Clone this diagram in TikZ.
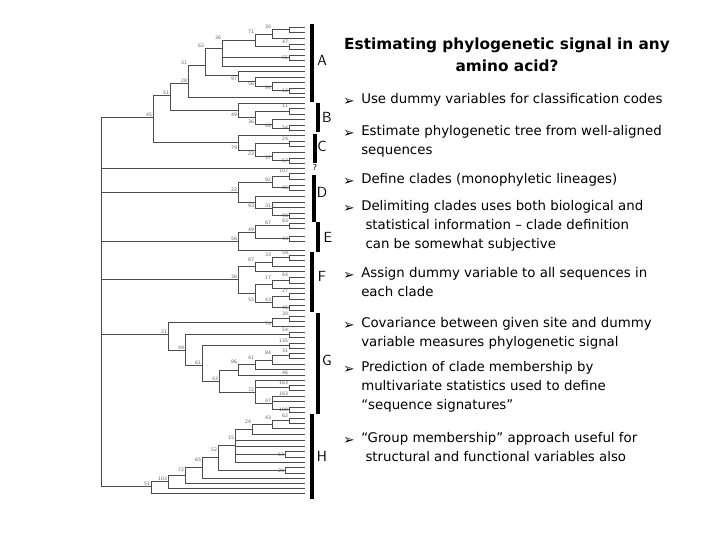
\documentclass[tikz,border=0pt]{standalone}
\usepackage{fontspec}
\setmainfont{DejaVu Sans}
\begin{document}
\begin{tikzpicture}[x=0.75pt,y=-0.75pt,
  tr/.style={draw=black!70,line width=0.6pt},
  bar/.style={line width=2.6pt,black},
  lab/.style={font=\fontsize{11}{11}\selectfont\sffamily,inner sep=0},
  bs/.style={font=\fontsize{3.5}{4}\selectfont,text=black!60,inner sep=0.5pt,anchor=south east},
  bul/.style={font=\fontsize{10}{14.25}\selectfont,inner sep=0,anchor=west},
  txt/.style={font=\fontsize{10}{14.25}\selectfont,inner sep=0,anchor=north west,align=left}]
\useasboundingbox (0,0) rectangle (720,540);
\fill[white] (0,0) rectangle (720,540);
\newcommand\TrV[3]{\draw[tr] (#1,#2)--(#1,#3);}
\newcommand\TrH[3]{\draw[tr] (#1,#3)--(#2,#3);}
\newcommand\TrL[2]{\foreach \yy in {#2}{\draw[tr] (#1,\yy)--(305,\yy);}}
\newcommand\Bs[3]{\node[bs] at (#1,#2) {#3};}
% ---- clade A
\TrV{289}{27}{32}\TrL{289}{27,32}
\TrV{272}{29.5}{38}\TrH{272}{289}{29.5}\TrL{272}{38}\Bs{272}{29.5}{30}
\TrV{289}{44}{49}\TrL{289}{44,49}\Bs{289}{44}{47}
\TrV{255}{34}{46.5}\TrH{255}{272}{34}\TrH{255}{289}{46.5}\Bs{255}{34}{71}
\TrV{289}{55}{60}\TrL{289}{55,60}\Bs{289}{60}{55}
\TrV{222}{40}{66}\TrH{222}{255}{40}\TrH{222}{289}{57.5}\TrL{222}{66}\Bs{222}{40}{36}
\TrV{289}{88}{93}\TrL{289}{88,93}\Bs{289}{93}{12}
\TrV{272}{82}{90.5}\TrL{272}{82}\TrH{272}{289}{90.5}\Bs{272}{90.5}{94}
\TrV{255}{77}{86}\TrL{255}{77}\TrH{255}{272}{86}\Bs{255}{86}{56}
\TrV{238}{71}{81}\TrL{238}{71}\TrH{238}{255}{81}\Bs{238}{81}{97}
\TrV{205}{48}{75}\TrH{205}{222}{48}\TrH{205}{238}{75}\Bs{205}{48}{63}
\TrV{188}{65}{97}\TrH{188}{205}{65}\TrL{188}{97}\Bs{188}{65}{31}
% ---- clade B
\TrV{289}{108.5}{114}\TrL{289}{108.5,114}\Bs{289}{108.5}{11}
\TrV{289}{125}{130.5}\TrL{289}{125,130.5}\Bs{289}{130.5}{54}
\TrV{272}{119.5}{128}\TrL{272}{119.5}\TrH{272}{289}{128}\Bs{272}{128}{46}
\TrV{255}{111}{124}\TrH{255}{289}{111}\TrH{255}{272}{124}\Bs{255}{124}{36}
\TrV{238}{103}{117.5}\TrL{238}{103}\TrH{238}{255}{117.5}\Bs{238}{117.5}{49}
\TrV{170}{83}{110}\TrH{170}{188}{83}\TrH{170}{238}{110}\Bs{188}{83}{28}\Bs{170}{95}{51}
% ---- clade C
\TrV{289}{141}{146}\TrL{289}{141,146}\Bs{289}{141}{24}
\TrV{289}{158}{163}\TrL{289}{158,163}\Bs{289}{163}{57}
\TrV{272}{152}{160.5}\TrL{272}{152}\TrH{272}{289}{160.5}\Bs{272}{160.5}{37}
\TrV{255}{143.5}{156}\TrH{255}{289}{143.5}\TrH{255}{272}{156}\Bs{255}{156}{23}
\TrV{238}{135}{150}\TrL{238}{135}\TrH{238}{255}{150}\Bs{238}{150}{79}
\TrV{153}{95}{142.5}\TrH{153}{170}{95}\TrH{153}{238}{142.5}\Bs{153}{117}{45}
% ---- ? leaf
\TrL{101}{168}
% ---- clade D
\TrV{289}{173}{179}\TrL{289}{173,179}\Bs{289}{173}{107}
\TrV{289}{185}{190}\TrL{289}{185,190}\Bs{289}{190}{86}
\TrV{272}{176}{187.5}\TrH{272}{289}{176}\TrH{272}{289}{187.5}\Bs{272}{182}{92}
\TrV{289}{213}{218}\TrL{289}{213,218}\Bs{289}{218}{98}
\TrV{272}{202}{215.5}\TrL{272}{202,207}\TrH{272}{289}{215.5}\Bs{272}{208}{31}
\TrV{255}{196}{208}\TrL{255}{196}\TrH{255}{272}{208}\Bs{255}{208}{93}
\TrV{238}{182}{202}\TrH{238}{272}{182}\TrH{238}{255}{202}\Bs{238}{192}{22}
\TrH{101}{238}{192}
% ---- clade E
\TrV{289}{223}{228}\TrL{289}{223,228}\Bs{289}{223}{83}
\TrV{289}{236}{241}\TrL{289}{236,241}\Bs{289}{241}{43}
\TrV{255}{225.5}{238.5}\TrH{255}{289}{225.5}\TrH{255}{289}{238.5}\Bs{272}{225.5}{67}\Bs{255}{232}{49}
\TrV{238}{232}{250}\TrH{238}{255}{232}\TrL{238}{250}\Bs{238}{241}{56}
\TrH{101}{238}{241}
% ---- clade F
\TrV{289}{255}{260}\TrL{289}{255,260}\Bs{289}{255}{59}
\TrV{272}{257.5}{266}\TrH{272}{289}{257.5}\TrL{272}{266}\Bs{272}{257.5}{33}
\TrV{255}{262}{271}\TrH{255}{272}{262}\TrL{255}{271}\Bs{255}{262}{87}
\TrV{289}{277}{283}\TrL{289}{277,283}\Bs{289}{277}{64}
\TrV{289}{293}{299}\TrL{289}{293,299}\Bs{289}{293}{27}
\TrV{272}{280}{288}\TrH{272}{289}{280}\TrL{272}{288}\Bs{272}{280}{17}
\TrV{289}{305}{310}\TrL{289}{305,310}\Bs{289}{310}{45}
\TrV{272}{296}{307.5}\TrH{272}{289}{296}\TrH{272}{289}{307.5}\Bs{272}{302}{43}
\TrV{255}{284}{302}\TrH{255}{272}{284}\TrH{255}{272}{302}\Bs{255}{302}{55}
\TrV{238}{266}{293}\TrH{238}{255}{266}\TrH{238}{255}{293}\Bs{238}{279}{38}
\TrH{101}{238}{279}
% ---- clade G
\TrV{289}{316}{321}\TrL{289}{316,321}\Bs{289}{316}{30}
\TrV{272}{318.5}{326}\TrH{272}{289}{318.5}\TrL{272}{326}\Bs{272}{326}{74}
\TrV{289}{332}{337}\TrL{289}{332,337}\Bs{289}{332}{54}
\TrV{289}{343}{348}\TrL{289}{343,348}\Bs{289}{343}{135}
\TrV{289}{353}{358}\TrL{289}{353,358}\Bs{289}{353}{31}
\TrV{272}{355.5}{364}\TrH{272}{289}{355.5}\TrL{272}{364}\Bs{272}{355.5}{84}
\TrV{255}{360}{369}\TrH{255}{272}{360}\TrL{255}{369}\Bs{255}{360}{41}
\TrV{238}{364.5}{375}\TrH{238}{255}{364.5}\TrL{238}{375}\Bs{238}{364.5}{86}\Bs{289}{375}{46}
\TrV{289}{385}{390}\TrL{289}{385,390}\Bs{289}{385}{163}
\TrV{289}{407}{412}\TrL{289}{407,412}\Bs{289}{412}{100}
\TrV{272}{396}{409.5}\TrL{272}{396,401}\TrH{272}{289}{409.5}\Bs{272}{403}{47}\Bs{289}{396}{163}
\TrV{255}{380}{403}\TrL{255}{380}\TrH{255}{289}{387.5}\TrH{255}{272}{403}\Bs{255}{392}{72}
\TrV{219}{370}{392}\TrH{219}{238}{370}\TrH{219}{255}{392}\Bs{219}{381}{43}
\TrV{202}{345.5}{381}\TrH{202}{289}{345.5}\TrH{202}{219}{381}\Bs{202}{365}{61}
\TrV{185}{334.5}{365}\TrH{185}{289}{334.5}\TrH{185}{202}{365}\Bs{185}{350}{49}
\TrV{168}{322}{350}\TrH{168}{272}{322}\TrH{168}{185}{350}\Bs{168}{334}{21}
\TrH{101}{168}{334}
% ---- clade H
\TrV{289}{418}{423}\TrL{289}{418,423}\Bs{289}{418}{62}
\TrV{272}{420.5}{428}\TrH{272}{289}{420.5}\TrL{272}{428}\Bs{272}{420.5}{43}
\TrV{252}{424}{434}\TrH{252}{272}{424}\TrL{252}{434}\Bs{252}{424}{24}
\TrV{285}{451}{457}\TrL{285}{451,457}\Bs{285}{457}{64}
\TrV{235}{429}{462}\TrH{235}{252}{429}\TrL{235}{440,446,462}\TrH{235}{285}{454}\Bs{235}{440}{15}
\TrV{285}{467}{473}\TrL{285}{467,473}\Bs{285}{473}{28}
\TrV{218}{445}{470}\TrH{218}{235}{445}\TrH{218}{285}{470}\Bs{218}{452}{52}
\TrV{202}{457}{478}\TrH{202}{218}{457}\TrL{202}{478}\Bs{202}{462}{65}
\TrV{185}{467}{483}\TrH{185}{202}{467}\TrL{185}{483}\Bs{185}{472}{72}
\TrV{168}{475}{488}\TrH{168}{185}{475}\TrL{168}{488}\Bs{168}{481}{103}
\TrV{151}{481}{493}\TrH{151}{168}{481}\TrL{151}{493}\Bs{151}{486}{51}
\TrH{101}{151}{486}
% ---- root
\TrV{101}{117}{486}\TrH{101}{153}{117}
% ---- clade bars and letters
\draw[bar] (312,24)--(312,102);   \node[lab] (lA) at (322,60) {A};
\draw[bar] (318,103)--(318,132);  \node[lab] (lB) at (327,117) {B};
\draw[bar] (315,134)--(315,163);  \node[lab] (lC) at (322,146) {C};
\node[lab,font=\fontsize{6}{6}\selectfont] (lq) at (315,168) {?};
\draw[bar] (314,175)--(314,222);  \node[lab] (lD) at (322,192) {D};
\draw[bar] (318,222)--(318,252);  \node[lab] (lE) at (328,237) {E};
\draw[bar] (312,252)--(312,312);  \node[lab] (lF) at (322,276) {F};
\draw[bar] (318,313)--(318,414);  \node[lab] (lG) at (327,360) {G};
\draw[bar] (312,414)--(312,499);  \node[lab] (lH) at (322,456) {H};
% ---- title
\node[font=\fontsize{11.5}{16.5}\selectfont\bfseries,align=center,inner sep=0] (title) at (507,55)
 {Estimating phylogenetic signal in any\\amino acid?};
% ---- bullets
\foreach \n/\y in {b1/102,b2/134,b3/182,b4/209,b5/276,b6/326,b7/370,b8/441}
  \node[bul] (\n) at (343,\y) {➢};
\node[txt] (t1) at (361,93) {Use dummy variables for classification codes};
\node[txt] (t2) at (361,125) {Estimate phylogenetic tree from well-aligned\\sequences};
\node[txt] (t3) at (361,173) {Define clades (monophyletic lineages)};
\node[txt] (t4) at (361,200) {Delimiting clades uses both biological and\\\ statistical information -- clade definition\\\ can be somewhat subjective};
\node[txt] (t5) at (361,267) {Assign dummy variable to all sequences in\\each clade};
\node[txt] (t6) at (361,317) {Covariance between given site and dummy\\variable measures phylogenetic signal};
\node[txt] (t7) at (361,361) {Prediction of clade membership by\\multivariate statistics used to define\\“sequence signatures”};
\node[txt] (t8) at (361,432) {“Group membership” approach useful for\\\ structural and functional variables also};
\end{tikzpicture}
\end{document}
